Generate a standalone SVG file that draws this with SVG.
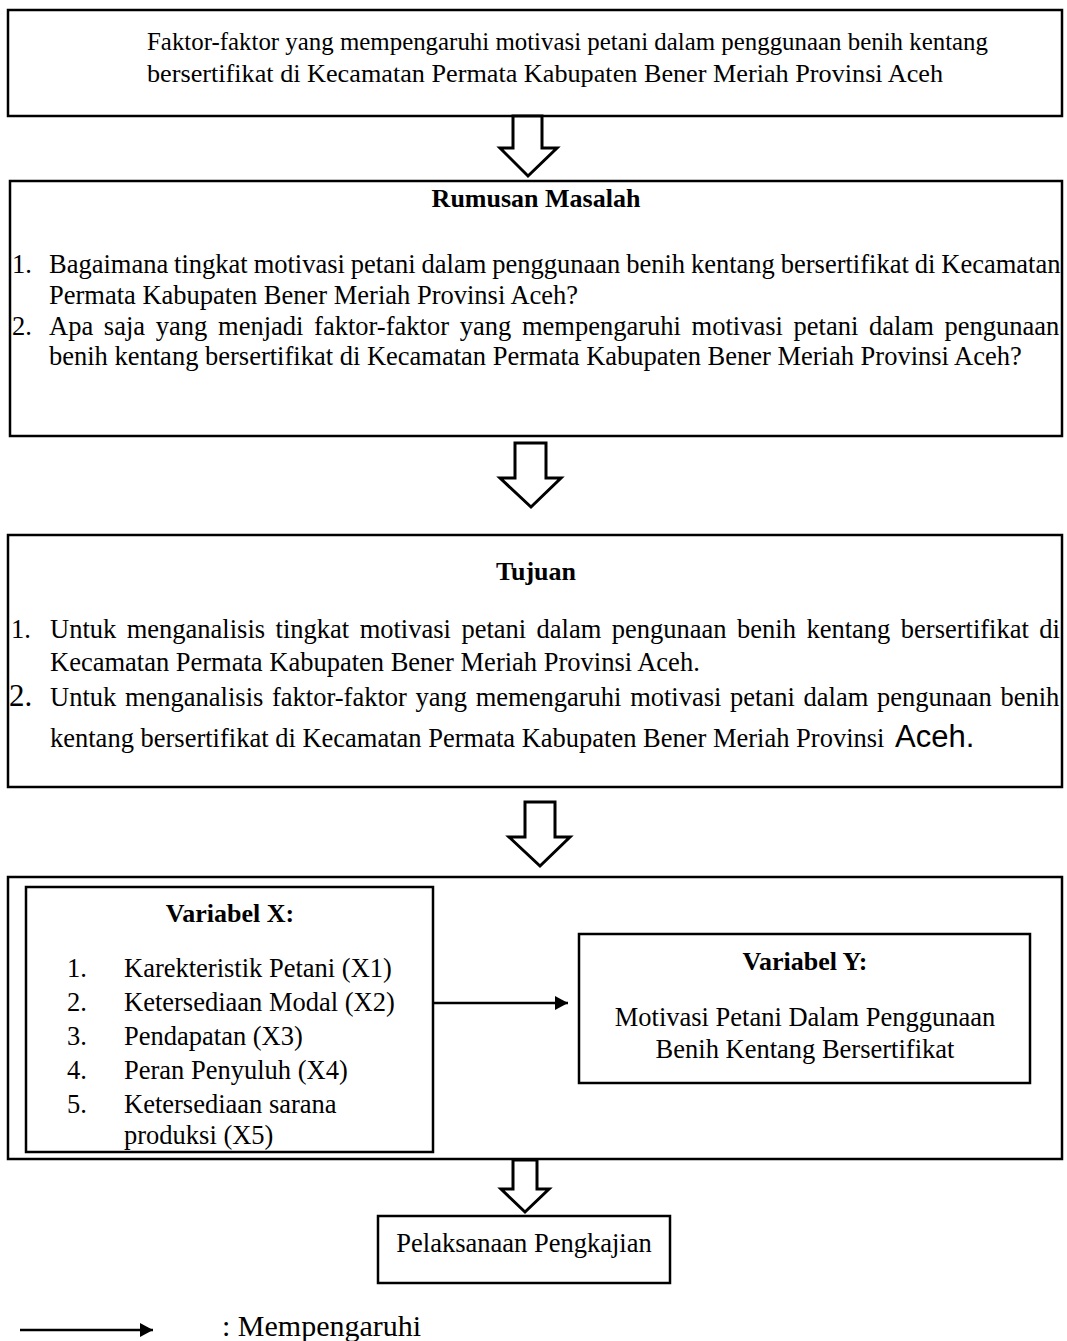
<svg xmlns="http://www.w3.org/2000/svg" width="1067" height="1341" viewBox="0 0 1067 1341">
<style>
  .box { fill: #ffffff; stroke: #000000; stroke-width: 2.5; }
  .hollow { fill: #ffffff; stroke: #000000; stroke-width: 3; stroke-linejoin: miter; }
  .t { font-family: "Liberation Serif", "Times New Roman", serif; font-size: 26.5px; fill: #000000; }
  .t1 { font-family: "Liberation Serif", "Times New Roman", serif; font-size: 25px; fill: #000000; }
  .b { font-family: "Liberation Serif", "Times New Roman", serif; font-size: 26px; font-weight: bold; fill: #000000; }
  .c { text-anchor: middle; }
  .line { stroke: #000000; stroke-width: 2.5; fill: none; }
</style>
<defs>
  <marker id="ah" markerWidth="14" markerHeight="14" viewBox="0 0 14 14" refX="13" refY="7" orient="auto" markerUnits="userSpaceOnUse">
    <path d="M0,0 L13,7 L0,14 Z" fill="#000000"/>
  </marker>
</defs>
<rect width="1067" height="1341" fill="#ffffff"/>

<g id="judul">
  <rect class="box" x="8" y="10" width="1054" height="106"/>
  <text class="t1" x="147" y="50" textLength="841" lengthAdjust="spacingAndGlyphs">Faktor-faktor yang mempengaruhi motivasi petani dalam penggunaan benih kentang</text>
  <text class="t1" x="147" y="82" textLength="796" lengthAdjust="spacingAndGlyphs">bersertifikat di Kecamatan Permata Kabupaten Bener Meriah Provinsi Aceh</text>
</g>

<g id="rumusan-masalah">
  <rect class="box" x="10" y="181" width="1052" height="255"/>
  <text class="b c" x="536" y="207">Rumusan Masalah</text>
  <text class="t" x="12" y="273">1.</text>
  <text class="t" x="49" y="273" style="word-spacing:-0.7px">Bagaimana tingkat motivasi petani dalam penggunaan benih kentang bersertifikat di Kecamatan</text>
  <text class="t" x="49" y="304">Permata Kabupaten Bener Meriah Provinsi Aceh?</text>
  <text class="t" x="12" y="335">2.</text>
  <text class="t" x="49" y="335" style="word-spacing:4.1px">Apa saja yang menjadi faktor-faktor yang mempengaruhi motivasi petani dalam pengunaan</text>
  <text class="t" x="49" y="365">benih kentang bersertifikat di Kecamatan Permata Kabupaten Bener Meriah Provinsi Aceh?</text>
</g>

<g id="tujuan">
  <rect class="box" x="8" y="535" width="1054" height="252"/>
  <text class="b c" x="536" y="580">Tujuan</text>
  <text class="t" x="11" y="638">1.</text>
  <text class="t" x="50" y="638" style="word-spacing:3.85px">Untuk menganalisis tingkat motivasi petani dalam pengunaan benih kentang bersertifikat di</text>
  <text class="t" x="50" y="671">Kecamatan Permata Kabupaten Bener Meriah Provinsi Aceh.</text>
  <text class="t" x="9" y="706" style="font-size:31px">2.</text>
  <text class="t" x="50" y="706" style="word-spacing:2.07px">Untuk menganalisis faktor-faktor yang memengaruhi motivasi petani dalam pengunaan benih</text>
  <text class="t" x="50" y="747">kentang bersertifikat di Kecamatan Permata Kabupaten Bener Meriah Provinsi <tspan x="895" style="font-family:'Liberation Sans', Arial, sans-serif; font-size:31px">Aceh.</tspan></text>
</g>

<g id="variabel">
  <rect class="box" x="8" y="877" width="1054" height="282"/>
</g>

<g id="variabel-x">
  <rect class="box" x="26" y="887" width="407" height="265"/>
  <text class="b c" x="230" y="922">Variabel X:</text>
  <text class="t" x="67" y="977">1.</text>
  <text class="t" x="124" y="977">Karekteristik Petani (X1)</text>
  <text class="t" x="67" y="1011">2.</text>
  <text class="t" x="124" y="1011">Ketersediaan Modal (X2)</text>
  <text class="t" x="67" y="1045">3.</text>
  <text class="t" x="124" y="1045">Pendapatan (X3)</text>
  <text class="t" x="67" y="1079">4.</text>
  <text class="t" x="124" y="1079">Peran Penyuluh (X4)</text>
  <text class="t" x="67" y="1113">5.</text>
  <text class="t" x="124" y="1113">Ketersediaan sarana</text>
  <text class="t" x="124" y="1144">produksi (X5)</text>
</g>

<g id="variabel-y">
  <rect class="box" x="579" y="934" width="451" height="149"/>
  <text class="b c" x="805" y="970">Variabel Y:</text>
  <text class="t c" x="805" y="1026">Motivasi Petani Dalam Penggunaan</text>
  <text class="t c" x="805" y="1058">Benih Kentang Bersertifikat</text>
</g>

<g id="pelaksanaan">
  <rect class="box" x="378" y="1216" width="292" height="67"/>
  <text class="t c" x="524" y="1252">Pelaksanaan Pengkajian</text>
</g>

<g id="legenda">
  <line class="line" x1="20" y1="1330" x2="153" y2="1330" marker-end="url(#ah)"/>
  <text class="t" x="222" y="1336" style="font-size:30px">: Mempengaruhi</text>
</g>

<g id="connectors">
  <path class="hollow" d="M513,116 L542,116 L542,148 L557,148 L528,176 L500,148 L513,148 Z"/>
  <path class="hollow" d="M515,443 L546,443 L546,478 L561,478 L531,507 L500,478 L515,478 Z"/>
  <path class="hollow" d="M525,802 L555,802 L555,837 L570,837 L540,866 L509,837 L525,837 Z"/>
  <path class="hollow" d="M513,1160 L537,1160 L537,1189 L549,1189 L525,1212 L501,1189 L513,1189 Z"/>
  <line class="line" x1="434" y1="1003" x2="568" y2="1003" marker-end="url(#ah)"/>
</g>
</svg>
